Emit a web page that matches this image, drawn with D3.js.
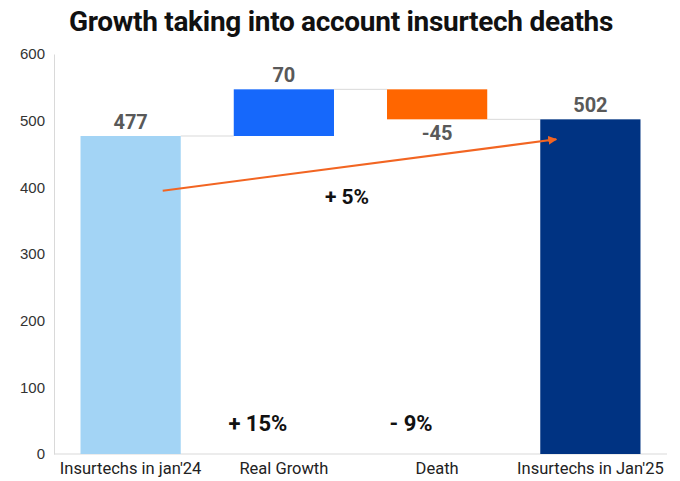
<!DOCTYPE html>
<html>
<head>
<meta charset="utf-8">
<script src="https://cdn.jsdelivr.net/npm/d3@7"></script>
<style>
  html, body { margin: 0; padding: 0; background: #fff; }
  svg { display: block; font-family: Roboto, "Noto Sans", sans-serif; }
</style>
</head>
<body>
<svg id="chart" width="680" height="481"></svg>
<script>
// Waterfall: start count, gains, losses, end count
const categories = ["Insurtechs in jan'24", "Real Growth", "Death", "Insurtechs in Jan'25"];
const deltas = [477, 70, -45, 502];
const kinds = ["total", "delta", "delta", "total"];
const barColors = ["#a3d4f5", "#1668fb", "#ff6600", "#003382"];
const valueLabels = ["477", "70", "-45", "502"];
const yTicks = [0, 100, 200, 300, 400, 500, 600];
const shareLabels = ["+ 15%", "- 9%"];       // under Real Growth and Death
const overallLabel = "+ 5%";
const arrowFromTo = [395, 472];              // value level at start / end of growth arrow

const svg = d3.select("#chart");
const W = 680, H = 481;
const margin = { top: 54, right: 13, bottom: 27, left: 54 };

const x = d3.scaleBand()
  .domain(categories)
  .range([margin.left, W - margin.right])
  .paddingInner(0.346)
  .paddingOuter(0.173);

const y = d3.scaleLinear().domain([0, 600]).range([H - margin.bottom, margin.top]);

// compute floating bar extents
let running = 0;
const bars = categories.map((c, i) => {
  let lo, hi;
  if (kinds[i] === "total") { lo = 0; hi = deltas[i]; running = deltas[i]; }
  else { const s = running; running += deltas[i]; lo = Math.min(s, running); hi = Math.max(s, running); }
  return { c, lo, hi, end: running, color: barColors[i], label: valueLabels[i], delta: deltas[i] };
});

// title
svg.append("text")
  .attr("x", 341).attr("y", 31)
  .attr("text-anchor", "middle")
  .attr("font-size", 28).attr("font-weight", 700)
  .attr("letter-spacing", -0.3)
  .attr("fill", "#111")
  .text("Growth taking into account insurtech deaths");

// y axis
const yAxis = svg.append("g")
  .attr("transform", `translate(${margin.left},0)`)
  .call(d3.axisLeft(y).tickValues(yTicks).tickSize(0).tickPadding(9));
yAxis.select(".domain").attr("stroke", "#d9d9d9");
yAxis.selectAll("text").attr("font-size", 15).attr("fill", "#333");

// baseline
svg.append("line")
  .attr("x1", margin.left).attr("x2", W - margin.right)
  .attr("y1", y(0)).attr("y2", y(0))
  .attr("stroke", "#d9d9d9");

// connectors between consecutive bars
for (let i = 0; i < bars.length - 1; i++) {
  const lvl = bars[i].end;
  svg.append("line")
    .attr("x1", x(bars[i].c) + x.bandwidth()).attr("x2", x(bars[i + 1].c))
    .attr("y1", y(lvl)).attr("y2", y(lvl))
    .attr("stroke", "#d9d9d9").attr("stroke-width", 1);
}

// bars
svg.append("g").selectAll("rect").data(bars).join("rect")
  .attr("x", d => x(d.c))
  .attr("width", x.bandwidth())
  .attr("y", d => y(d.hi))
  .attr("height", d => y(d.lo) - y(d.hi))
  .attr("fill", d => d.color);

// value labels
svg.append("g").selectAll("text").data(bars).join("text")
  .attr("x", d => x(d.c) + x.bandwidth() / 2)
  .attr("y", d => d.delta < 0 ? y(d.lo) + 21 : y(d.hi) - 7)
  .attr("text-anchor", "middle")
  .attr("font-size", 20).attr("font-weight", 700)
  .attr("fill", "#595959")
  .text(d => d.label);

// category labels
svg.append("g").selectAll("text").data(categories).join("text")
  .attr("x", d => x(d) + x.bandwidth() / 2)
  .attr("y", y(0) + 20)
  .attr("text-anchor", "middle")
  .attr("font-size", 16.5).attr("fill", "#222")
  .text(d => d);

// share labels under delta bars
[1, 2].forEach((idx, k) => {
  const cx = x(categories[idx]) + x.bandwidth() / 2;
  svg.append("text")
    .attr("x", cx - 26)
    .attr("y", 431)
    .attr("text-anchor", "middle")
    .attr("font-size", 22).attr("font-weight", 700)
    .attr("fill", "#111")
    .text(shareLabels[k]);
});

// overall growth arrow
const defs = svg.append("defs");
defs.append("marker")
  .attr("id", "arrowhead")
  .attr("viewBox", "0 0 10 10")
  .attr("refX", 9).attr("refY", 5)
  .attr("markerWidth", 4.5).attr("markerHeight", 4.5)
  .attr("orient", "auto")
  .append("path").attr("d", "M0,0 L10,5 L0,10 z").attr("fill", "#f26522");

const ax1 = x(categories[0]) + x.bandwidth() * 0.82;
const ax2 = x(categories[3]) + x.bandwidth() * 0.16;
svg.append("line")
  .attr("x1", ax1).attr("y1", y(arrowFromTo[0]))
  .attr("x2", ax2).attr("y2", y(arrowFromTo[1]))
  .attr("stroke", "#f26522").attr("stroke-width", 2)
  .attr("marker-end", "url(#arrowhead)");

svg.append("text")
  .attr("x", 347).attr("y", 204)
  .attr("text-anchor", "middle")
  .attr("font-size", 21).attr("font-weight", 700)
  .attr("fill", "#111")
  .text(overallLabel);
</script>
</body>
</html>
